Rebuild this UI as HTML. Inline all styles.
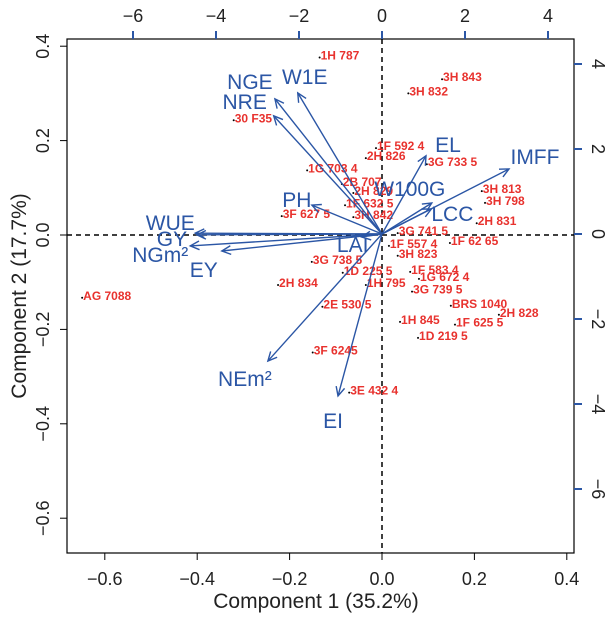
<!DOCTYPE html>
<html><head><meta charset="utf-8"><style>
body{margin:0;background:#fff;}
svg{display:block;font-family:"Liberation Sans",Arial,sans-serif;}
</style></head><body>
<svg id="chart" width="612" height="617" viewBox="0 0 612 617" xmlns="http://www.w3.org/2000/svg">
<rect x="67" y="39" width="507" height="514" fill="none" stroke="#000" stroke-width="1.2"/>
<g id="axes"></g>
<g id="marks"></g>
<text x="316" y="608" font-size="21" text-anchor="middle" fill="#222">Component 1 (35.2%)</text>
<text transform="translate(26,296) rotate(-90)" font-size="21" text-anchor="middle" fill="#222">Component 2 (17.7%)</text>
</svg>
<script>
const bottomTicks=[-0.6,-0.4,-0.2,0.0,0.2,0.4];
const leftTicks=[0.4,0.2,0.0,-0.2,-0.4,-0.6];
const topTicks=[-6,-4,-2,0,2,4];
const rightTicks=[4,2,0,-2,-4,-6];
const obsNames=["1H 787","3H 843","3H 832","30 F35","1F 592  4","2H 826","3G 733 5","1G 703 4","2B 707","2H 829","1F 632 5","3H 842","3F 627 5","3H 813","3H 798","2H 831","3G 741 5","1F 62 65","1F 557 4","3H 823","3G 738 5","1F 583 4","1D 225 5","1G 672 4","2H 834","1H 795","3G 739 5","BRS 1040","2H 828","2E 530 5","1H 845","1F 625 5","1D 219 5","3F 6245","3E 432 4","AG 7088"];
const obsX=[-0.135,0.130,0.057,-0.321,-0.013,-0.035,0.097,-0.162,-0.087,-0.062,-0.080,-0.062,-0.217,0.216,0.223,0.205,0.034,0.147,0.015,0.034,-0.152,0.061,-0.085,0.080,-0.225,-0.035,0.065,0.149,0.253,-0.129,0.039,0.158,0.078,-0.150,-0.071,-0.649];
const obsY=[0.376,0.330,0.300,0.243,0.184,0.163,0.150,0.137,0.108,0.089,0.063,0.038,0.040,0.093,0.068,0.025,0.004,-0.017,-0.023,-0.044,-0.057,-0.078,-0.080,-0.093,-0.106,-0.106,-0.120,-0.150,-0.169,-0.152,-0.184,-0.190,-0.218,-0.249,-0.334,-0.133];
const varNames=["NGE","W1E","NRE","EL","IMFF","W100G","LCC","PH","WUE","GY","NGm²","EY","LAI","NEm²","EI"];
const varX=[-2.58,-2.03,-2.61,1.06,3.06,1.20,1.19,-1.69,-4.50,-4.46,-4.62,-3.86,-0.49,-2.75,-1.06];
const varY=[3.18,3.32,2.78,1.84,1.53,0.73,0.59,0.68,0.02,-0.02,-0.28,-0.40,-0.07,-2.99,-3.81];
// label offsets (style, px) relative to arrow tip
const labDX=[-25,7,-29,22,26,-22,21,-15,-25,-25,-30,-18,-9,-23,-5];
const labDY=[-17,-16,-14,-11,-12,-14,5,-5,-10,4,9,19,8,18,25];

const SVGNS="http://www.w3.org/2000/svg";
const sx=v=>382+v*462, sy=v=>235-v*472;
const tx=v=>382+v*41.5, ty=v=>234-v*42.5;
const axes=document.getElementById('axes'), marks=document.getElementById('marks');
function mk(tag,attrs,parent,txt){const e=document.createElementNS(SVGNS,tag);for(const k in attrs)e.setAttribute(k,attrs[k]);if(txt!==undefined)e.textContent=txt;parent.appendChild(e);return e;}
const fmt=v=>(v<0?"\u2212":"")+Math.abs(v).toFixed(1);
const blue='#2b56a5';
bottomTicks.forEach(v=>{const x=sx(v);
 const t=mk('line',{x1:x,x2:x,y1:553,y2:560,stroke:'#000'},axes);
 
 
 const l=mk('text',{x:x,y:585,'font-size':18,'text-anchor':'middle',fill:'#222'},axes,fmt(v));
 
 });
leftTicks.forEach(v=>{const y=sy(v);
 const t=mk('line',{x1:60,x2:67,y1:y,y2:y,stroke:'#000'},axes);
 
 
 const l=mk('text',{transform:`translate(49,${y}) rotate(-90)`,'font-size':18,'text-anchor':'middle',fill:'#222'},axes,fmt(v));
 
 });
topTicks.forEach(v=>{const x=tx(v);
 const t=mk('line',{x1:x,x2:x,y1:31,y2:39,stroke:blue,'stroke-width':2},axes);
 
 
 const l=mk('text',{x:x,y:22,'font-size':18,'text-anchor':'middle',fill:'#222'},axes,(v<0?"\u2212":"")+Math.abs(v));
 
 });
rightTicks.forEach(v=>{const y=ty(v);
 const t=mk('line',{x1:574,x2:582,y1:y,y2:y,stroke:blue,'stroke-width':2},axes);
 
 
 const l=mk('text',{transform:`translate(592,${y}) rotate(90)`,'font-size':18,'text-anchor':'middle',fill:'#222'},axes,(v<0?"\u2212":"")+Math.abs(v));
 
 });
const h=mk('line',{x1:67,x2:574,y1:sy(0),y2:sy(0),stroke:'#000','stroke-dasharray':'5,4','stroke-width':1.5},axes);


const vz=mk('line',{x1:sx(0),x2:sx(0),y1:39,y2:553,stroke:'#000','stroke-dasharray':'5,4','stroke-width':1.5},axes);



obsNames.forEach((n,i)=>{const x=sx(obsX[i]),y=sy(obsY[i]);
 const d=mk('circle',{cx:x,cy:y,r:1,fill:'#000'},marks);
 
 
 const t=mk('text',{x:x+1,y:y+2,'font-size':12,'font-weight':'bold',fill:'#e8322e','xml:space':'preserve'},marks,n);
 
 });

varNames.forEach((n,i)=>{const x0=tx(0),y0=ty(0),x=tx(varX[i]),y=ty(varY[i]);
 const ang=Math.atan2(y-y0,x-x0),L=10,a=0.45;
 const g=mk('g',{},marks);
 
 
 mk('line',{x1:x0,y1:y0,x2:x,y2:y,stroke:blue,'stroke-width':1.4},g);
 mk('polyline',{points:`${x-L*Math.cos(ang-a)},${y-L*Math.sin(ang-a)} ${x},${y} ${x-L*Math.cos(ang+a)},${y-L*Math.sin(ang+a)}`,fill:'none',stroke:blue,'stroke-width':1.4},g);
 const t=mk('text',{x:x+labDX[i],y:y+labDY[i]+7,'font-size':21,'text-anchor':'middle',fill:blue},marks,n);
 
 });
</script>
</body></html>
